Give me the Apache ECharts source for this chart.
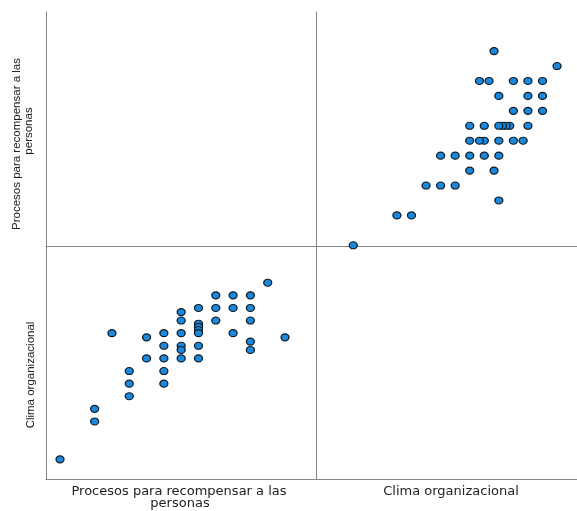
<!DOCTYPE html>
<html>
<head>
<meta charset="utf-8">
<script src="https://cdn.jsdelivr.net/npm/echarts@6/dist/echarts.min.js"></script>
<style>html,body{margin:0;padding:0;background:#fff;}#c{width:577px;height:511px;}</style>
</head>
<body>
<div id="c"></div>
<script>
// One entry per respondent (relative scale scores)
var procesos = [12, 9, 10, 11, 8, 9, 10, 11, 7, 7, 9, 11, 8, 8, 8, 8, 3, 6, 7, 10,
                5, 13, 11, 6, 7, 8, 7, 11, 5, 6, 7, 8, 4, 6, 4, 6, 4, 2, 2, 0];
var clima = [14, 13, 13, 13, 12, 12, 12, 12, 11.67, 11, 11, 11, 10.75, 10.5, 10.25, 10, 10, 10, 10, 10,
             9.67, 9.67, 9.33, 9, 9, 9, 8.67, 8.67, 8, 8, 8, 8, 7, 7, 6, 6, 5, 4, 3, 0];
var varNames = ['Procesos para recompensar a las\npersonas', 'Clima organizacional'];

var chart = echarts.init(document.getElementById('c'));
var lineCol = '#858585';
function ax(gi, min, max) {
  return {
    type: 'value', gridIndex: gi, min: min, max: max,
    axisLine: { show: true, onZero: false, lineStyle: { color: lineCol, width: 1 } },
    axisTick: { show: false }, axisLabel: { show: false }, splitLine: { show: false }
  };
}
var sym = {
  type: 'scatter', symbol: 'circle', symbolSize: [8, 7], clip: false,
  itemStyle: { color: '#1a88dc', borderColor: '#111a22', borderWidth: 1.2, opacity: 1 }
};
var trData = clima.map(function (c, i) { return [c, procesos[i]]; });
var blData = procesos.map(function (p, i) { return [p, clima[i]]; });

chart.setOption({
  animation: false,
  grid: [
    { left: 46, top: 12, width: 270, height: 234 },
    { left: 316, top: 12, width: 261, height: 234 },
    { left: 46, top: 246, width: 270, height: 233 },
    { left: 316, top: 246, width: 261, height: 233 }
  ],
  xAxis: [ax(0, 0, 1), ax(1, -2.56, 15.37), ax(2, -0.81, 14.79), ax(3, 0, 1)],
  yAxis: [ax(0, 0, 1), ax(1, -0.05, 15.62), ax(2, -1.56, 16.91), ax(3, 0, 1)],
  series: [
    Object.assign({}, sym, { xAxisIndex: 1, yAxisIndex: 1, data: trData }),
    Object.assign({}, sym, { xAxisIndex: 2, yAxisIndex: 2, data: blData })
  ],
  graphic: [
    { type: 'text', x: 17, y: 144, rotation: Math.PI / 2,
      style: { text: varNames[0].split('\n')[0], font: '11.5px "Liberation Sans", Arial, sans-serif', fill: '#222', align: 'center', verticalAlign: 'middle' } },
    { type: 'text', x: 29, y: 131, rotation: Math.PI / 2,
      style: { text: varNames[0].split('\n')[1], font: '11.5px "Liberation Sans", Arial, sans-serif', fill: '#222', align: 'center', verticalAlign: 'middle' } },
    { type: 'text', x: 31, y: 375, rotation: Math.PI / 2,
      style: { text: varNames[1], font: '11.5px "Liberation Sans", Arial, sans-serif', fill: '#222', align: 'center', verticalAlign: 'middle' } },
    { type: 'text', x: 179, y: 492,
      style: { text: varNames[0].split('\n')[0], font: '13px "DejaVu Sans", sans-serif', fill: '#222', align: 'center', verticalAlign: 'middle' } },
    { type: 'text', x: 180, y: 504,
      style: { text: varNames[0].split('\n')[1], font: '13px "DejaVu Sans", sans-serif', fill: '#222', align: 'center', verticalAlign: 'middle' } },
    { type: 'text', x: 451, y: 492,
      style: { text: varNames[1], font: '13px "DejaVu Sans", sans-serif', fill: '#222', align: 'center', verticalAlign: 'middle' } }
  ]
});
</script>
</body>
</html>
